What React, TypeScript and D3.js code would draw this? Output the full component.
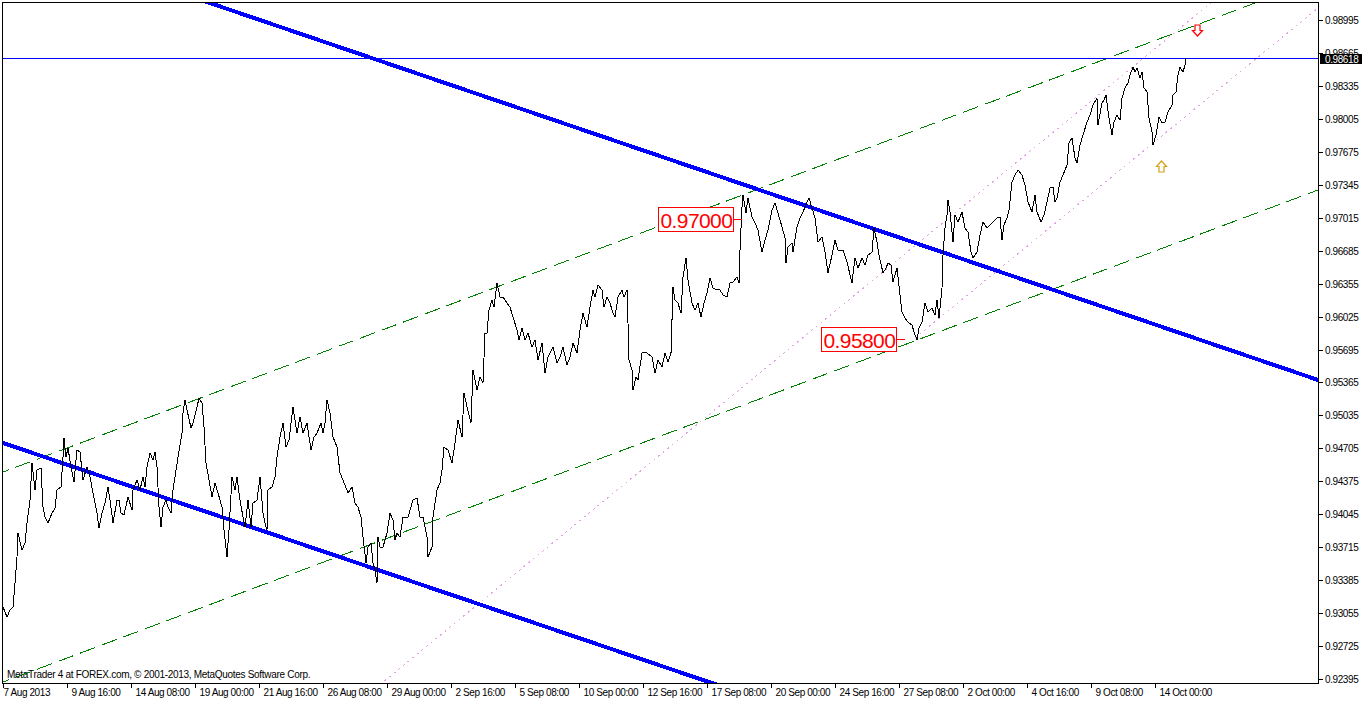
import React from 'react';
import * as d3 from 'd3';

const W = 1362;
const H = 701;

// ---- axis labels ----
const timeLabels = ['7 Aug 2013', '9 Aug 16:00', '14 Aug 08:00', '19 Aug 00:00', '21 Aug 16:00', '26 Aug 08:00', '29 Aug 00:00', '2 Sep 16:00', '5 Sep 08:00', '10 Sep 00:00', '12 Sep 16:00', '17 Sep 08:00', '20 Sep 00:00', '24 Sep 16:00', '27 Sep 08:00', '2 Oct 00:00', '4 Oct 16:00', '9 Oct 08:00', '14 Oct 00:00'];
const timeLabelHours = [0, 64, 128, 192, 256, 320, 384, 448, 512, 576, 640, 704, 768, 832, 896, 960, 1024, 1088, 1152];
const priceLabels = ['0.98995', '0.98665', '0.98335', '0.98005', '0.97675', '0.97345', '0.97015', '0.96685', '0.96355', '0.96025', '0.95695', '0.95365', '0.95035', '0.94705', '0.94375', '0.94045', '0.93715', '0.93385', '0.93055', '0.92725', '0.92395'];

const currentPrice = 0.98618;
const copyright = 'MetaTrader 4 at FOREX.com, \u00a9 2001-2013, MetaQuotes Software Corp.';

// ---- hourly close series (hour since 7 Aug 2013 00:00, price) ----
const closeSeries: [number, number][] = [
  [0, 0.93116], [4, 0.93016], [7, 0.93086], [10, 0.93116], [12, 0.93356], [14, 0.93617], [15, 0.93857], [19, 0.93687], [22, 0.93757], [24, 0.93957], [27, 0.94187], [29, 0.94558], [32, 0.94288], [34, 0.94488], [38, 0.94508], [40, 0.94117], [42, 0.94017], [45, 0.93957], [49, 0.94057], [52, 0.94107], [54, 0.94288], [58, 0.94318], [60, 0.94618], [61, 0.94808], [63, 0.94618], [65, 0.94708], [68, 0.94518], [71, 0.94368], [74, 0.94688], [77, 0.94668], [80, 0.94388], [84, 0.94518], [87, 0.94418], [90, 0.94258], [94, 0.94057], [96, 0.93907], [99, 0.94057], [102, 0.94157], [105, 0.94318], [107, 0.94187], [110, 0.93957], [114, 0.94187], [116, 0.94187], [118, 0.94057], [121, 0.94037], [125, 0.94218], [129, 0.94087], [130, 0.94288], [134, 0.94388], [137, 0.94288], [140, 0.94418], [142, 0.94318], [144, 0.94518], [147, 0.94658], [150, 0.94588], [152, 0.94668], [154, 0.94518], [156, 0.94117], [158, 0.93917], [160, 0.94117], [163, 0.94187], [165, 0.94117], [168, 0.94057], [170, 0.94288], [172, 0.94418], [175, 0.94618], [179, 0.94858], [180, 0.95059], [182, 0.95189], [184, 0.95089], [188, 0.94909], [190, 0.94959], [194, 0.95119], [196, 0.95209], [199, 0.95159], [201, 0.94919], [203, 0.94558], [206, 0.94388], [209, 0.94218], [212, 0.94358], [215, 0.94258], [219, 0.94117], [221, 0.93887], [224, 0.93617], [226, 0.93887], [229, 0.94418], [232, 0.94288], [234, 0.94418], [237, 0.94187], [240, 0.94017], [242, 0.93917], [245, 0.94187], [248, 0.93917], [250, 0.94157], [254, 0.94187], [257, 0.94418], [260, 0.94057], [262, 0.93957], [264, 0.93887], [265, 0.94288], [269, 0.94318], [272, 0.94418], [274, 0.94618], [277, 0.94818], [280, 0.94959], [283, 0.94718], [286, 0.94788], [290, 0.95119], [294, 0.94858], [297, 0.95019], [300, 0.94858], [304, 0.94959], [308, 0.94688], [311, 0.94818], [314, 0.94858], [318, 0.94959], [320, 0.94858], [322, 0.94959], [324, 0.95189], [327, 0.95059], [330, 0.94818], [334, 0.94718], [337, 0.94458], [340, 0.94388], [345, 0.94258], [349, 0.94318], [352, 0.94157], [355, 0.94117], [358, 0.94017], [360, 0.93817], [363, 0.93557], [365, 0.93717], [368, 0.93757], [370, 0.93557], [372, 0.93486], [374, 0.93356], [375, 0.93817], [377, 0.93717], [380, 0.93717], [384, 0.93857], [387, 0.94057], [390, 0.93987], [392, 0.93787], [394, 0.93857], [397, 0.93817],
  [400, 0.94017], [405, 0.94017], [410, 0.94187], [414, 0.94207], [417, 0.94017], [420, 0.94017], [424, 0.93817], [425, 0.93617], [429, 0.93717], [430, 0.94017], [434, 0.94288], [437, 0.94358], [439, 0.94488], [441, 0.94718], [445, 0.94688], [449, 0.94558], [452, 0.94758], [455, 0.94989], [459, 0.94818], [461, 0.95259], [464, 0.95119], [468, 0.94959], [470, 0.95489], [474, 0.95289], [477, 0.95419], [480, 0.95359], [482, 0.95860], [484, 0.95860], [486, 0.96090], [489, 0.96190], [491, 0.96120], [494, 0.96361], [497, 0.96220], [500, 0.96220], [504, 0.96160], [507, 0.96120], [510, 0.96020], [514, 0.95890], [516, 0.95790], [519, 0.95910], [522, 0.95790], [525, 0.95860], [529, 0.95720], [532, 0.95790], [535, 0.95590], [539, 0.95760], [542, 0.95459], [545, 0.95620], [550, 0.95720], [554, 0.95560], [557, 0.95620], [560, 0.95720], [564, 0.95540], [567, 0.95620], [570, 0.95760], [574, 0.95660], [577, 0.95890], [580, 0.96060], [584, 0.95920], [587, 0.96120], [590, 0.96291], [592, 0.96220], [595, 0.96341], [599, 0.96291], [601, 0.96120], [604, 0.96220], [607, 0.96160], [610, 0.96060], [612, 0.96020], [615, 0.96220], [619, 0.96291], [621, 0.96220], [624, 0.96291], [625, 0.95960], [626, 0.95590], [629, 0.95489], [630, 0.95289], [633, 0.95419], [635, 0.95389], [639, 0.95660], [644, 0.95660], [649, 0.95620], [652, 0.95459], [655, 0.95590], [659, 0.95519], [662, 0.95660], [665, 0.95570], [668, 0.95660], [670, 0.96321], [672, 0.96190], [675, 0.96160], [678, 0.96060], [680, 0.96421], [683, 0.96611], [685, 0.96391], [689, 0.96160], [692, 0.96090], [695, 0.96160], [698, 0.96020], [701, 0.96160], [704, 0.96261], [707, 0.96411], [710, 0.96311], [714, 0.96291], [717, 0.96291], [720, 0.96241], [724, 0.96220], [727, 0.96361], [730, 0.96371], [734, 0.96421], [736, 0.96361], [737, 0.96691], [739, 0.97122], [740, 0.97242], [743, 0.97062], [745, 0.97212], [749, 0.97022], [752, 0.96962], [755, 0.96892], [759, 0.96671], [762, 0.96791], [765, 0.96892], [769, 0.97092], [772, 0.97162], [775, 0.97062], [779, 0.96922], [782, 0.96811], [783, 0.96561], [785, 0.96721], [789, 0.96761], [790, 0.96671], [794, 0.96922], [797, 0.97012],
  [800, 0.97072], [804, 0.97172], [806, 0.97212], [809, 0.97112], [812, 0.97012], [815, 0.96771], [819, 0.96821], [822, 0.96671], [825, 0.96461], [829, 0.96641], [832, 0.96791], [835, 0.96691], [840, 0.96691], [844, 0.96571], [849, 0.96361], [852, 0.96611], [855, 0.96511], [859, 0.96611], [862, 0.96541], [865, 0.96641], [869, 0.96671], [871, 0.96912], [874, 0.96771], [876, 0.96641], [880, 0.96461], [883, 0.96511], [885, 0.96561], [888, 0.96541], [890, 0.96371], [894, 0.96511], [897, 0.96241], [899, 0.96070], [902, 0.96010], [905, 0.95970], [909, 0.95940], [911, 0.95870], [914, 0.95790], [916, 0.95910], [919, 0.95970], [922, 0.96160], [925, 0.96070], [929, 0.96110], [932, 0.96040], [934, 0.96190], [936, 0.96010], [939, 0.96311], [940, 0.96641], [942, 0.96912], [944, 0.97042], [945, 0.97192], [947, 0.97072], [950, 0.96771], [952, 0.97042], [955, 0.96972], [959, 0.97072], [962, 0.96912], [965, 0.96871], [968, 0.96671], [970, 0.96611], [974, 0.96671], [977, 0.96841], [980, 0.96972], [984, 0.96912], [987, 0.96942], [990, 0.96972], [994, 0.97012], [997, 0.97022], [999, 0.96791], [1001, 0.96942], [1004, 0.97012], [1006, 0.97092], [1009, 0.97372], [1012, 0.97442], [1015, 0.97492], [1019, 0.97442], [1022, 0.97342], [1025, 0.97172], [1029, 0.97072], [1032, 0.97242], [1034, 0.97072], [1038, 0.96972], [1041, 0.97042], [1044, 0.97172], [1047, 0.97312], [1050, 0.97322], [1052, 0.97172], [1054, 0.97212], [1057, 0.97372], [1060, 0.97442], [1064, 0.97542], [1066, 0.97763], [1069, 0.97813], [1072, 0.97613], [1074, 0.97563], [1077, 0.97743], [1080, 0.97843], [1084, 0.97973], [1087, 0.98043], [1090, 0.98143], [1094, 0.98213], [1095, 0.97943], [1099, 0.98163], [1101, 0.98193], [1103, 0.98244], [1106, 0.98013], [1109, 0.97843], [1111, 0.97973], [1114, 0.98043], [1117, 0.97993], [1119, 0.98213], [1122, 0.98314], [1125, 0.98364], [1127, 0.98444], [1130, 0.98524], [1132, 0.98474], [1134, 0.98514], [1137, 0.98414], [1139, 0.98474], [1141, 0.98314], [1144, 0.98274], [1146, 0.98013], [1149, 0.97873], [1150, 0.97743], [1153, 0.97843], [1156, 0.98023], [1159, 0.97963], [1162, 0.97973], [1165, 0.98073], [1169, 0.98143], [1170, 0.98244], [1173, 0.98274], [1175, 0.98444], [1177, 0.98524], [1180, 0.98474], [1182, 0.98544], [1183, 0.98618],
];

// ---- drawn objects (anchors in hour / price) ----
type Pt = [number, number];
const blueTrendlines: [Pt, Pt][] = [
  [[207, 0.99165], [1315, 0.9539]],
  [[0, 0.94759], [697, 0.92395]],
];
const greenChannel: [Pt, Pt][] = [
  [[0, 0.94468], [1252, 0.99165]],
  [[0, 0.92365], [1315, 0.97292]],
];
const pinkChannelUpper: [Pt, Pt] = [[379, 0.92355], [1204, 0.99135]];
const pinkChannelLowerRay: [Pt, Pt] = [[912, 0.9581], [1315, 0.99115]];
const priceTags = [
  { hour: 739, price: 0.97, text: '0.97000' },
  { hour: 902, price: 0.958, text: '0.95800' },
];
const arrowMarks = [
  { hour: 1194, price: 0.9889, dir: 'down', color: '#FF0000' },
  { hour: 1158, price: 0.97533, dir: 'up', color: '#D4A017' },
];

const FONT = '"Liberation Sans", Arial, sans-serif';

export default function App() {
  const left = 2, right = 1318, top = 2, bottom = 683;
  const x = d3.scaleLinear().domain([0, 1315]).range([3, 1318]);
  const y = d3.scaleLinear().domain([0.92395, 0.98995]).range([679, 20]);

  const line = d3.line<[number, number]>().x((d) => x(d[0])).y((d) => y(d[1]));
  const pricePath = line(closeSeries) || '';

  const extendLine = (seg: [Pt, Pt], fromStart: boolean) => {
    const [a, b] = seg;
    const x1 = x(a[0]), y1 = y(a[1]), x2 = x(b[0]), y2 = y(b[1]);
    const k = (y2 - y1) / (x2 - x1);
    const xs = fromStart ? -200 : x1;
    const xe = 1600;
    return { x1: xs, y1: y1 + k * (xs - x1), x2: xe, y2: y1 + k * (xe - x1) };
  };

  const arrowPath = (dir: string) =>
    dir === 'down'
      ? 'M-2.5,-5.5 H2.5 V0 H5 L0,5.5 L-5,0 H-2.5 Z'
      : 'M-2.5,5.5 H2.5 V0 H5 L0,-5.5 L-5,0 H-2.5 Z';

  const cpY = Math.round(y(currentPrice)) + 0.5;

  return (
    <svg width={W} height={H} style={{ position: 'absolute', left: 0, top: 0, background: '#fff', display: 'block' }}>
      <rect x={0} y={0} width={W} height={H} fill="#fff" />
      <defs>
        <clipPath id="plot">
          <rect x={left + 1} y={top + 1} width={right - left - 1} height={bottom - top - 1} />
        </clipPath>
      </defs>

      <g clipPath="url(#plot)">
        {/* pink dotted channel */}
        {(() => {
          const u = extendLine(pinkChannelUpper, true);
          const l = extendLine(pinkChannelLowerRay, false);
          return (
            <g stroke="#E4A0E4" strokeWidth={1} strokeDasharray="2,4" fill="none" shapeRendering="crispEdges">
              <line {...u} />
              <line {...l} />
            </g>
          );
        })()}
        {/* green dashed channel */}
        <g stroke="#008000" strokeWidth={1} strokeDasharray="16,7" fill="none" shapeRendering="crispEdges">
          {greenChannel.map((s, i) => (
            <line key={i} {...extendLine(s, true)} />
          ))}
        </g>
        {/* thick blue trendlines */}
        <g stroke="#0000FF" strokeWidth={4} fill="none" shapeRendering="crispEdges">
          {blueTrendlines.map((s, i) => (
            <line key={i} {...extendLine(s, true)} />
          ))}
        </g>
        {/* current price horizontal line */}
        <line x1={left} x2={right} y1={cpY} y2={cpY} stroke="#0000FF" strokeWidth={1} shapeRendering="crispEdges" />
        {/* price series */}
        <path d={pricePath} fill="none" stroke="#000" strokeWidth={1} strokeLinejoin="miter" shapeRendering="crispEdges" />

        {/* price tags */}
        {priceTags.map((t, i) => {
          const ax = x(t.hour);
          const ay = Math.round(y(t.price)) + 0.5;
          const bw = 75, bh = 24, conn = 9;
          const bx = Math.round(ax - conn - bw) + 0.5;
          return (
            <g key={i}>
              <line x1={bx + bw} x2={ax} y1={ay} y2={ay} stroke="#FF0000" strokeWidth={1} shapeRendering="crispEdges" />
              <rect x={bx} y={ay - 12} width={bw} height={bh} fill="#fff" stroke="#FF0000" strokeWidth={1} shapeRendering="crispEdges" />
              <text x={bx + 2} y={ay + 8} fontFamily={FONT} fontSize={21} letterSpacing={-0.6} fill="#FF0000">
                {t.text}
              </text>
            </g>
          );
        })}

        {/* arrows */}
        {arrowMarks.map((a, i) => (
          <path
            key={i}
            d={arrowPath(a.dir)}
            transform={`translate(${Math.round(x(a.hour)) + 0.5},${Math.round(y(a.price)) + 0.5})`}
            fill="none"
            stroke={a.color}
            strokeWidth={1.2}
          />
        ))}

        <text x={7} y={678} fontFamily={FONT} fontSize={10} letterSpacing={-0.3} fill="#000">
          {copyright}
        </text>
      </g>

      {/* frame */}
      <g stroke="#000" strokeWidth={1} shapeRendering="crispEdges" fill="none">
        <line x1={left + 0.5} x2={left + 0.5} y1={top} y2={bottom + 1} />
        <line x1={left} x2={right + 1} y1={top + 0.5} y2={top + 0.5} />
        <line x1={right + 0.5} x2={right + 0.5} y1={top} y2={bottom + 1} />
        <line x1={left} x2={right + 1} y1={bottom + 0.5} y2={bottom + 0.5} />
      </g>

      {/* price axis */}
      <g fontFamily={FONT} fontSize={10} letterSpacing={-0.4} fill="#000">
        {priceLabels.map((lab) => {
          const ty = Math.round(y(+lab)) + 0.5;
          return (
            <g key={lab}>
              <line x1={right + 1} x2={right + 5} y1={ty} y2={ty} stroke="#000" shapeRendering="crispEdges" />
              <text x={1325} y={ty + 3.5}>{lab}</text>
            </g>
          );
        })}
      </g>
      {/* current price box */}
      <rect x={1320} y={cpY - 4.5} width={42} height={10} fill="#000" />
      <text x={1325} y={cpY + 4} fontFamily={FONT} fontSize={10} letterSpacing={-0.4} fill="#fff">
        {currentPrice.toFixed(5)}
      </text>

      {/* time axis */}
      <g fontFamily={FONT} fontSize={10} letterSpacing={-0.4} fill="#000">
        {timeLabels.map((lab, i) => {
          const tx = Math.round(x(timeLabelHours[i])) + 0.5;
          return (
            <g key={lab}>
              <line x1={tx} x2={tx} y1={bottom + 1} y2={bottom + 5} stroke="#000" shapeRendering="crispEdges" />
              <text x={i === 0 ? tx : tx + 4} y={696}>{lab}</text>
            </g>
          );
        })}
      </g>
    </svg>
  );
}
